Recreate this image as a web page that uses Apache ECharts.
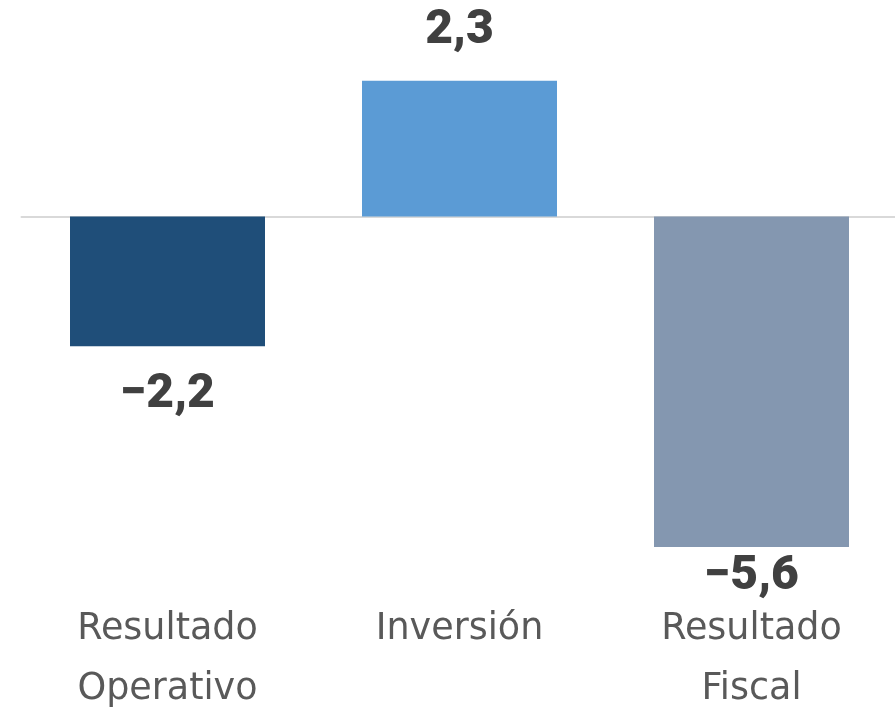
<!DOCTYPE html>
<html>
<head>
<meta charset="utf-8">
<script src="https://cdn.jsdelivr.net/npm/echarts@6/dist/echarts.min.js"></script>
<style>
  html, body { margin: 0; padding: 0; background: #fff; }
  #chart { width: 895px; height: 709px; }
</style>
</head>
<body>
<div id="chart"></div>
<script>
const categories = ["Resultado\nOperativo", "Inversión", "Resultado\nFiscal"];
const values = [-2.2, 2.3, -5.6];
const barColors = ["#1F4E79", "#5B9BD5", "#8497B0"];
const labelGap = [25, 26, 6];

const chart = echarts.init(document.getElementById("chart"));

const fmt = (v) => v.toFixed(1).replace(".", ",").replace("-", "−");

chart.setOption({
  animation: false,
  backgroundColor: "#fff",
  grid: { left: 21.5, width: 876, top: 39.5, height: 531, outerBoundsMode: "none", containLabel: false },
  xAxis: [
    {
      type: "category",
      data: categories,
      axisLine: { show: true, onZero: true, lineStyle: { color: "#D9D9D9", width: 2 } },
      axisTick: { show: false },
      axisLabel: { show: false },
    },
    {
      type: "category",
      data: categories,
      position: "bottom",
      axisLine: { show: false, onZero: false },
      axisTick: { show: false },
      axisLabel: {
        margin: 29,
        color: "#595959",
        fontFamily: "DejaVu Sans",
        fontSize: 36.5,
        lineHeight: 60,
      },
    },
  ],
  yAxis: {
    type: "value",
    min: -6,
    max: 3,
    show: false,
    splitLine: { show: false },
  },
  series: [
    {
      type: "bar",
      barWidth: 195,
      data: values.map((v, i) => ({
        value: v,
        itemStyle: { color: barColors[i] },
        label: {
          position: v >= 0 ? "top" : "bottom",
          distance: labelGap[i],
        },
      })),
      label: {
        show: true,
        formatter: (p) => fmt(p.value),
        color: "#404040",
        fontFamily: "Roboto",
        fontWeight: 900,
        fontSize: 48,
        lineHeight: 48,
      },
    },
  ],
});
</script>
</body>
</html>
